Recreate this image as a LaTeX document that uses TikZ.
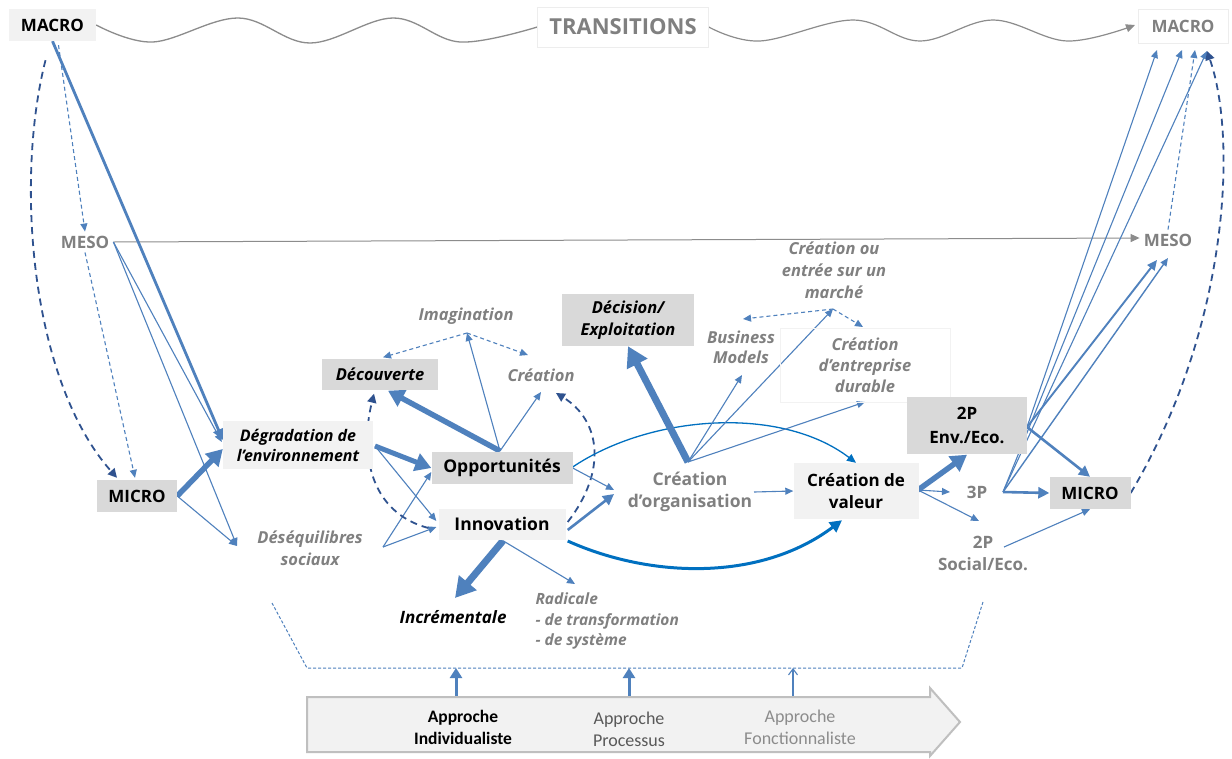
\documentclass[tikz,border=0pt]{standalone}
\usepackage{fontspec}
\setmainfont{Open Sans}
\newfontfamily\calfont{Carlito}
\usetikzlibrary{arrows.meta,calc}
\newcommand\fsz[2]{\fontsize{#1}{#2}\selectfont}
\definecolor{blu}{RGB}{79,129,189}
\definecolor{dblu}{RGB}{47,82,143}
\definecolor{bblu}{RGB}{0,112,192}
\definecolor{dkbox}{RGB}{217,217,217}
\definecolor{ltbox}{RGB}{242,242,242}
\definecolor{gtxt}{RGB}{128,128,128}
\definecolor{wav}{RGB}{140,140,140}
\pgfdeclarelayer{bg}\pgfdeclarelayer{edges}\pgfsetlayers{bg,edges,main}
\begin{document}
\begin{tikzpicture}[x=1pt,y=-1pt,
  box/.style={inner sep=0pt,align=center,font=\bfseries\fsz{17}{22}},
  dk/.style={fill=dkbox},
  lt/.style={fill=ltbox},
  lbl/.style={align=center,text=gtxt,font=\bfseries\itshape\fsz{16.5}{21}},
  a1/.style={draw=blu,line width=1.1pt,-{Triangle[length=8pt,width=7pt]}},
  a2/.style={draw=blu,line width=2.6pt,-{Triangle[length=11pt,width=11pt]}},
  a3/.style={draw=blu,line width=5.5pt,-{Triangle[length=16pt,width=18pt]}},
  a4/.style={draw=blu,line width=7pt,-{Triangle[length=20pt,width=22pt]}},
  d1/.style={a1,dash pattern=on 4pt off 3pt},
  dd/.style={draw=dblu,line width=1.8pt,dash pattern=on 7pt off 5pt,-{Triangle[length=9pt,width=9pt]}},
  bb1/.style={draw=bblu,line width=1.3pt,-{Triangle[length=9pt,width=8pt]}},
  bb3/.style={draw=bblu,line width=3pt,-{Triangle[length=12pt,width=12pt]}},
  gar/.style={draw=wav,line width=1.2pt,-{Triangle[length=9pt,width=8pt]}}
]
\begin{pgfonlayer}{bg}
\fill[white] (0,0) rectangle (1232,758);
\end{pgfonlayer}
\useasboundingbox (0,0) rectangle (1232,758);

% ---------- nodes ----------
\node[box,lt,minimum width=87pt,minimum height=32pt] (macroL) at (52.5,25) {MACRO};
\node[box,draw=black!7,fill=white,minimum width=171pt,minimum height=40pt,text=gtxt,font=\bfseries\fsz{22}{25}] (trans) at (623,27) {TRANSITIONS};
\node[box,draw=black!7,fill=white,minimum width=90pt,minimum height=34pt,text=gtxt] (macroR) at (1183,26) {MACRO};
\node[box,text=gtxt,inner sep=4pt] (mesoL) at (85,242) {MESO};
\node[box,text=gtxt,inner sep=4pt] (mesoR) at (1168,240) {MESO};
\node[box,dk,minimum width=80pt,minimum height=32pt] (microL) at (137,496) {MICRO};
\node[box,lt,minimum width=150pt,minimum height=48pt,font=\bfseries\itshape\fsz{16}{20}] (degr) at (298,445) {Dégradation de\\l’environnement};
\node[lbl,font=\bfseries\itshape\fsz{16.5}{22}] (deseq) at (310,548) {Déséquilibres\\sociaux};
\node[box,dk,minimum width=116pt,minimum height=31pt,font=\bfseries\itshape\fsz{16.5}{20}] (decouv) at (380,374) {Découverte};
\node[lbl] (imag) at (466,316) {Imagination};
\node[lbl] (creaA) at (541,375) {Création};
\node[box,dk,minimum width=141pt,minimum height=32pt,font=\bfseries\fsz{17.5}{22}] (opp) at (502,468) {Opportunités};
\node[box,lt,minimum width=127pt,minimum height=31pt,font=\bfseries\fsz{17.5}{22}] (innov) at (502,524) {Innovation};
\node[box,dk,minimum width=132pt,minimum height=52pt,font=\bfseries\itshape\fsz{16.5}{22}] (decis) at (628,320) {Décision/\\Exploitation};
\node[lbl,font=\bfseries\itshape\fsz{16.5}{20}] (bm) at (741,347) {Business\\Models};
\node[lbl,font=\bfseries\itshape\fsz{16.5}{22}] (marche) at (834,270) {Création ou\\entrée sur un\\marché};
\node[lbl,draw=black!5,minimum width=170pt,minimum height=74pt,font=\bfseries\itshape\fsz{16.5}{21}] (entr) at (865,365) {Création\\d’entreprise\\durable};
\node[box,text=gtxt,font=\bfseries\fsz{17.5}{22}] (org) at (690,492) {Création\\d’organisation};
\node[box,lt,minimum width=125pt,minimum height=56pt] (valeur) at (856,491) {Création de\\valeur};
\node[box,dk,minimum width=120pt,minimum height=57pt,font=\bfseries\fsz{17}{24}] (env) at (967,425) {2P\\Env./Eco.};
\node[box,text=gtxt] (p3) at (977,492) {3P};
\node[box,dk,minimum width=81pt,minimum height=32pt] (microR) at (1090,493) {MICRO};
\node[box,text=gtxt] (social) at (983,553) {2P\\Social/Eco.};
\node[box,font=\bfseries\itshape\fsz{17}{20}] (incr) at (453,617) {Incrémentale};
\node[lbl,align=left,anchor=west,font=\bfseries\itshape\fsz{15.5}{20.5}] (radic) at (532,621) {Radicale\\- de transformation\\- de système};

% bottom arrow shape and approaches
\draw[fill=ltbox,draw=black!25,line width=2pt] (307,697) -- (930,697) -- (930,688) -- (960,722) -- (930,756) -- (930,752) -- (307,752) -- cycle;
\node[font=\calfont\bfseries\fsz{17.5}{22},align=center] (appI) at (463,727) {Approche\\Individualiste};
\node[font=\calfont\fsz{18}{22},text=black!65,align=center] (appP) at (629,729) {Approche\\Processus};
\node[font=\calfont\fsz{18}{22},text=black!45,align=center] (appF) at (800,727) {Approche\\Fonctionnaliste};

% ---------- coordinates ----------
\coordinate (deseqIn) at (237,546);
\coordinate (degrOut) at (375,446);
\coordinate (deseqOut) at (383,547);
\coordinate (oppHub) at (500,451);
\coordinate (imagP) at (467,333);
\coordinate (creaAin) at (541,392);
\coordinate (creaAtop) at (528,355);
\coordinate (creaAin2) at (556,393);
\coordinate (orgIn) at (614,492);
\coordinate (orgHub) at (688,462);
\coordinate (orgOut) at (754,492);
\coordinate (bmIn) at (742,375);
\coordinate (bmTop) at (743,319);
\coordinate (marcheP) at (833,309);
\coordinate (entrTop) at (863,327);
\coordinate (entrIn) at (865,402);
\coordinate (valOut) at (918,490);
\coordinate (p3In) at (950,492);
\coordinate (socialIn) at (979,521);
\coordinate (envHub) at (1027,427);
\coordinate (p3Out) at (1003,492);
\coordinate (socialOut) at (1004,547);
\coordinate (incrIn) at (455,598);
\coordinate (radicIn) at (575,584);
\coordinate (mA) at (1157,50);
\coordinate (mB) at (1182,50);
\coordinate (mC) at (1195,50);
\coordinate (mD) at (1207,51);
\coordinate (msA) at (1157,260);
\coordinate (msB) at (1168,258);
\coordinate (u1a) at (456,697); \coordinate (u1b) at (456,668);
\coordinate (u2a) at (629,697); \coordinate (u2b) at (629,668);
\coordinate (u3a) at (793,697); \coordinate (u3b) at (793,668);
\coordinate (tz1) at (272,603); \coordinate (tz2) at (307,668);
\coordinate (tz3) at (962,668); \coordinate (tz4) at (983,602);

% ---------- connectors ----------
\begin{pgfonlayer}{edges}
% transitions wave
\draw[wav,line width=1.3pt] plot[smooth,tension=0.6] coordinates {(macroL.east) (153,42) (238,18) (310,43) (393,18) (460,42) (trans.west)};
\draw[gar] plot[smooth,tension=0.6] coordinates {(trans.east) (760,41) (853,20) (920,41) (993,20) (1067,41) (1135,25)};
\draw[gar,line width=1pt] (mesoL.east) -- ($(mesoR.west)+(0,-2)$);

% left part
\draw[a2,line width=2.8pt] (macroL.south) -- ($(degr.west)+(0,-5)$);
\draw[d1] ($(macroL.south)+(6,4)$) -- (mesoL.north);
\draw[dd] ($(macroL.south)+(-7,19)$) .. controls (15,180) and (30,380) .. ($(microL.north)+(-20,-2)$);
\draw[d1] (mesoL.south) -- ($(microL.north)+(-2,-2)$);
\draw[a1] (mesoL.east) -- ($(degr.west)+(-1,-3)$);
\draw[a1] (mesoL.east) -- (deseqIn);
\draw[a3] (microL.east) -- ($(degr.west)+(0,4)$);
\draw[a1] (microL.east) -- (deseqIn);

% centre
\draw[a3,line width=5pt] (degrOut) -- (opp.west);
\draw[a1] (degrOut) -- ($(innov.west)+(-2,-3)$);
\draw[a1] (deseqOut) -- ($(opp.west)+(0,4)$);
\draw[a1] (deseqOut) -- ($(innov.west)+(-2,3)$);
\draw[dd] ($(innov.west)+(-10,4)$) .. controls (368,512) and (360,450) .. ($(decouv.south)+(-6,4)$);
\draw[a3] (oppHub) -- ($(decouv.south)+(8,1)$);
\draw[a1] (oppHub) -- (imagP);
\draw[a1] (oppHub) -- (creaAin);
\draw[d1] (imagP) -- ($(decouv.north)+(3,-1)$);
\draw[d1] (imagP) -- (creaAtop);
\draw[dd] ($(innov.east)+(2,-2)$) .. controls (608,470) and (600,420) .. (creaAin2);
\draw[a1] (opp.east) -- ($(orgIn)+(0,-2)$);
\draw[a2] ($(innov.east)+(2,6)$) -- ($(orgIn)+(0,2)$);
\draw[a4] ($(innov.south)+(1,1)$) -- (incrIn);
\draw[a1] ($(innov.south)+(1,1)$) -- (radicIn);
\draw[bb1] ($(opp.east)+(0,-1)$) .. controls (650,415) and (780,405) .. (valeur.north);
\draw[bb3] ($(innov.east)+(2,17)$) .. controls (650,578) and (760,582) .. ($(valeur.south)+(-14,1)$);
\draw[a1] (orgOut) -- (valeur.west);
\draw[a4] (orgHub) -- (decis.south);
\draw[a1] (orgHub) -- (bmIn);
\draw[a1] (orgHub) -- (marcheP);
\draw[a1] (orgHub) -- (entrIn);
\draw[d1] (marcheP) -- (bmTop);
\draw[d1] (marcheP) -- (entrTop);

% right part
\draw[a3] (valOut) -- ($(env.south)+(0,1)$);
\draw[a1] (valOut) -- (p3In);
\draw[a1] (valOut) -- (socialIn);
\draw[a2] (envHub) -- (microR.north);
\draw[a2] (p3Out) -- (microR.west);
\draw[a1] (socialOut) -- (microR.south);
\draw[a1] (envHub) -- (mA);
\draw[a1] (p3Out) -- (mB);
\draw[a1] (p3Out) -- (mD);
\draw[a2,line width=1.9pt,-{Triangle[length=10pt,width=9pt]}] (envHub) -- (msA);
\draw[a1,line width=1.4pt] (p3Out) -- (msB);
\draw[d1] (mesoR.north) -- (mC);
\draw[dd] (microR.east) .. controls (1228,330) and (1238,140) .. (mD);

% bottom
\draw[blu,line width=1pt,dash pattern=on 3pt off 2pt] (tz1) -- (tz2) -- (tz3) -- (tz4);
\draw[a2,line width=3pt,-{Triangle[length=10pt,width=12pt]}] (u1a) -- (u1b);
\draw[a2,line width=3pt,-{Triangle[length=10pt,width=12pt]}] (u2a) -- (u2b);
\draw[a1,-{Straight Barb[length=6pt,width=9pt]}] (u3a) -- (u3b);
\end{pgfonlayer}
\end{tikzpicture}
\end{document}
